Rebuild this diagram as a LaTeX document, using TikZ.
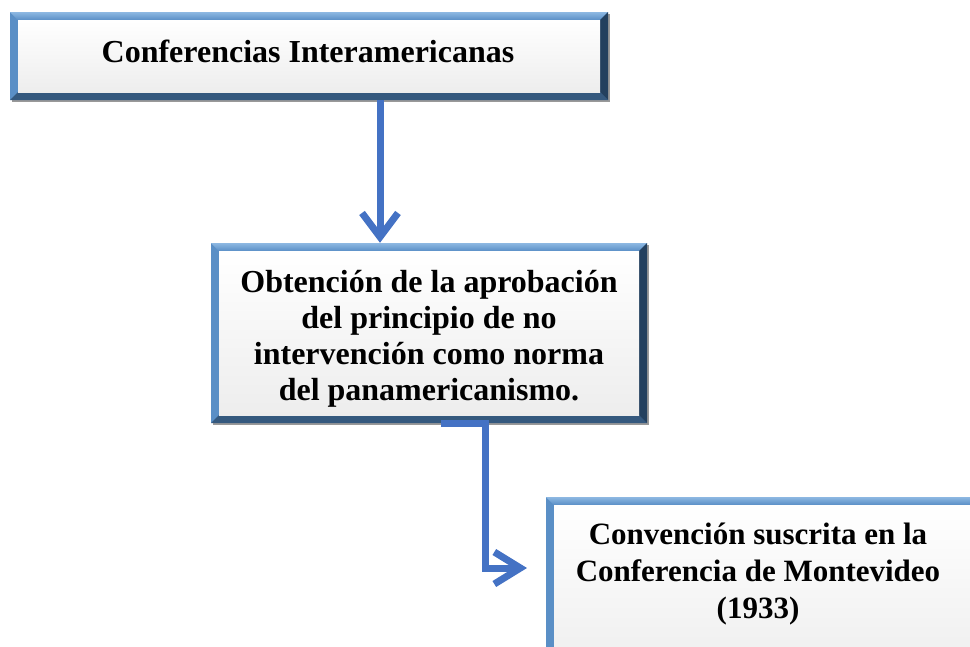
\documentclass[tikz,border=0pt]{standalone}
\usepackage{fontspec}
\setmainfont{Liberation Serif}
\usetikzlibrary{arrows.meta,shadows}
\definecolor{arrowblue}{HTML}{4472C4}
\definecolor{bevlight}{HTML}{8DB8E2}
\definecolor{bevmid}{HTML}{5A8FC6}
\definecolor{bevdark}{HTML}{35597E}
\definecolor{bevdarker}{HTML}{23405E}
\tikzset{
  panel/.style={rectangle, inner sep=0pt, draw=none, fill=white,
    drop shadow={shadow xshift=2pt, shadow yshift=-2pt, opacity=0.4, fill=black},
    path picture={
      \fill[bevmid] (path picture bounding box.south west) rectangle (path picture bounding box.north east);
      \shade[top color=bevlight, bottom color=bevmid]
        (path picture bounding box.north west) -- (path picture bounding box.north east)
        -- ([shift={(-8pt,-8pt)}]path picture bounding box.north east)
        -- ([shift={(8pt,-8pt)}]path picture bounding box.north west) -- cycle;
      \fill[bevdark]
        (path picture bounding box.south west) -- (path picture bounding box.south east)
        -- ([shift={(-8pt,8pt)}]path picture bounding box.south east)
        -- ([shift={(8pt,8pt)}]path picture bounding box.south west) -- cycle;
      \fill[bevdarker]
        (path picture bounding box.south east) -- (path picture bounding box.north east)
        -- ([shift={(-8pt,-8pt)}]path picture bounding box.north east)
        -- ([shift={(-8pt,8pt)}]path picture bounding box.south east) -- cycle;
      \shade[top color=white, bottom color=black!7]
        ([shift={(8pt,8pt)}]path picture bounding box.south west)
        rectangle ([shift={(-8pt,-8pt)}]path picture bounding box.north east);
    }},
  conn/.style={draw=arrowblue, line width=7pt},
  txt/.style={align=center, inner sep=0pt, text=black, anchor=base}
}
\begin{document}
\begin{tikzpicture}[x=1pt, y=-1pt]
\useasboundingbox (0,0) rectangle (970,646);
\clip (0,0) rectangle (970,646);
\node[panel, minimum width=598pt, minimum height=88pt] (box1) at (309,56) {};
\node[panel, minimum width=436pt, minimum height=180pt] (box2) at (429,333) {};
\node[panel, minimum width=460pt, minimum height=190pt] (box3) at (776,592) {};
\node[txt, font=\fontsize{32}{36}\selectfont\bfseries] (t1) at (308,62) {Conferencias Interamericanas};
\begin{scope}
\clip (211,251) rectangle (647,406);
\node[txt, font=\fontsize{32}{36}\selectfont\bfseries] (t2) at (429,400)
  {Obtención de la aprobación\\del principio de no\\intervención como norma\\del panamericanismo.};
\end{scope}
\node[txt, font=\fontsize{31}{37}\selectfont\bfseries] (t3) at (758,618)
  {Convención suscrita en la\\Conferencia de Montevideo\\(1933)};
\coordinate (c1) at (380,0);
\coordinate (c2) at (441,0);
\coordinate (c3) at (485,0);
\coordinate (e2) at (527,568);
\draw[conn, -{Straight Barb[length=24pt, width=36pt]}] (box1.south -| c1) -- (box2.north -| c1);
\draw[conn, -{Straight Barb[length=26pt, width=32pt]}] (box2.south -| c2) -- (box2.south -| c3) -- (c3 |- e2) -- (e2);
\end{tikzpicture}
\end{document}
